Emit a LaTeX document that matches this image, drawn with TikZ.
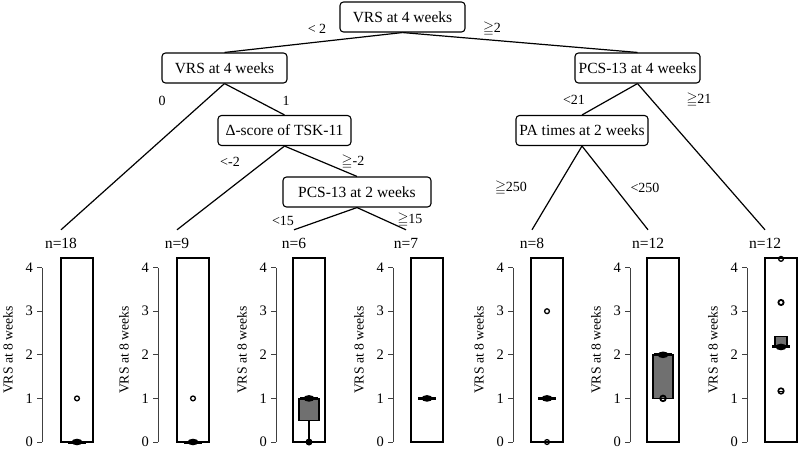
\documentclass[tikz,border=0pt]{standalone}
\usepackage{amssymb}
\usepackage{fontspec}
\newfontfamily\tms{Liberation Serif}
\newcommand{\gq}{$\geqq$}
\definecolor{boxgray}{HTML}{707070}
\definecolor{axgray}{HTML}{404040}
\newcommand{\mypanel}[3]{%
  \draw[axisline] (#2,442) -- (#2,267.6);
  \foreach \v in {0,...,4}{
    \draw[axisline] (#2,{442-43.6*\v}) -- ({#2-5},{442-43.6*\v});
    \node[ticklab, anchor=east] (t#1\v) at ({#2-9},{442-43.6*\v}) {\v};
  }
  \node[ylab, rotate=90] (yl#1) at ({#2-34},350) {VRS at 8 weeks};
  \draw[frame] (#3,258) rectangle ({#3+32},442);
}
\newcommand{\med}[2]{%
  \draw[medline] ({#1-9},{442-43.6*#2}) -- ({#1+9},{442-43.6*#2});
  \fill ({#1},{442-43.6*#2}) ellipse (5.5pt and 3.3pt);
}
\newcommand{\outl}[2]{\draw[outlier] ({#1},{442-43.6*#2}) circle (2.4pt);}
\begin{document}
\begin{tikzpicture}[x=1pt,y=-1pt,
  split/.style={draw, rounded corners=3.5pt, line width=1.1pt, font=\tms\fontsize{15.5}{18}\selectfont, minimum height=30pt, inner sep=0pt},
  elab/.style={font=\tms\fontsize{14}{16}\selectfont, inner sep=0pt},
  nlab/.style={font=\tms\fontsize{15.5}{18}\selectfont, text height=10pt, text depth=0pt, inner xsep=0pt, inner ysep=8pt},
  edge/.style={line width=1.2pt},
  axisline/.style={draw=axgray, line width=0.7pt},
  ticklab/.style={font=\tms\fontsize{14.5}{16}\selectfont, inner sep=0pt},
  ylab/.style={font=\tms\fontsize{13.7}{15}\selectfont, inner sep=0pt},
  frame/.style={line width=1.1pt},
  medline/.style={line width=3pt},
  outlier/.style={line width=1.3pt},
  gbox/.style={fill=boxgray, draw=black, line width=1.1pt}]
\useasboundingbox (0,0) rectangle (799,449);
% tree nodes
\node[split, minimum width=125pt] (root) at (402.5,17) {VRS at 4 weeks};
\node[split, minimum width=125pt] (l1) at (224.5,68) {VRS at 4 weeks};
\node[split, minimum width=125pt] (r1) at (637.5,68) {PCS-13 at 4 weeks};
\node[split, minimum width=133pt] (d) at (284.5,130.5) {Δ-score of TSK-11};
\node[split, minimum width=148pt] (p2) at (357,192) {PCS-13 at 2 weeks};
\node[split, minimum width=132pt] (pa) at (582,130.5) {PA times at 2 weeks};
% leaf counts
\node[nlab] (n18) at (61,243) {n=18};
\node[nlab] (n9) at (177,243) {n=9};
\node[nlab] (n6) at (294,243) {n=6};
\node[nlab] (n7) at (406,243) {n=7};
\node[nlab] (n8) at (532,243) {n=8};
\node[nlab] (n12a) at (648,243) {n=12};
\node[nlab] (n12b) at (765,243) {n=12};
% edges
\draw[edge] (root.south) -- (l1.north);
\draw[edge] (root.south) -- (r1.north);
\draw[edge] (l1.south) -- (n18.north);
\draw[edge] (l1.south) -- (d.north);
\draw[edge] (d.south) -- (n9.north);
\draw[edge] (d.south) -- (p2.north);
\draw[edge] (p2.south) -- (n6.north);
\draw[edge] (p2.south) -- (n7.north);
\draw[edge] (r1.south) -- (pa.north);
\draw[edge] (r1.south) -- (n12b.north);
\draw[edge] (pa.south) -- (n8.north);
\draw[edge] (pa.south) -- (n12a.north);
% edge labels
\node[elab] (e1) at (317,29) {< 2};
\node[elab] (e2) at (492,29) {\gq2};
\node[elab] (e3) at (162,101) {0};
\node[elab] (e4) at (286,101) {1};
\node[elab] (e5) at (230,162) {<-2};
\node[elab] (e6) at (353,162) {\gq-2};
\node[elab] (e7) at (283,221) {<15};
\node[elab] (e8) at (410,220) {\gq15};
\node[elab] (e9) at (574,100) {<21};
\node[elab] (e10) at (699,100) {\gq21};
\node[elab] (e11) at (511,188) {\gq250};
\node[elab] (e12) at (645,188) {<250};
% panels
\mypanel{a}{42}{61}
\mypanel{b}{158}{177}
\mypanel{c}{276}{293}
\mypanel{d}{393}{411}
\mypanel{e}{513}{531}
\mypanel{f}{630}{647}
\mypanel{g}{747}{765}
% panel 1
\med{77}{0}
\outl{77}{1}
% panel 2
\med{193}{0}
\outl{193}{1}
% panel 3
\draw[line width=1.1pt] (309,{442-43.6*0.5}) -- (309,442);
\draw[gbox] (299,{442-43.6*0.5}) rectangle (319,{442-43.6*1});
\med{309}{1}
\fill (309,442) circle (3.5pt);
% panel 4
\med{427}{1}
% panel 5
\med{547}{1}
\outl{547}{3}
\outl{547}{0}
% panel 6
\draw[gbox] (653,{442-43.6*1}) rectangle (673,{442-43.6*2});
\med{663}{2}
\draw[line width=1.8pt] (663,{442-43.6*1}) circle (2.8pt);
% panel 7
\draw[gbox] (775,{442-43.6*2.18}) rectangle (787,{442-43.6*2.43});
\med{781}{2.18}
\outl{781}{4.2}
\draw[line width=1.8pt] (781,{442-43.6*3.2}) circle (2.6pt);
\draw[line width=1.6pt] (781,{442-43.6*1.17}) circle (2.8pt);
\draw[line width=0.8pt] (778.5,{442-43.6*1.17}) -- (783.5,{442-43.6*1.17});
\end{tikzpicture}
\end{document}
